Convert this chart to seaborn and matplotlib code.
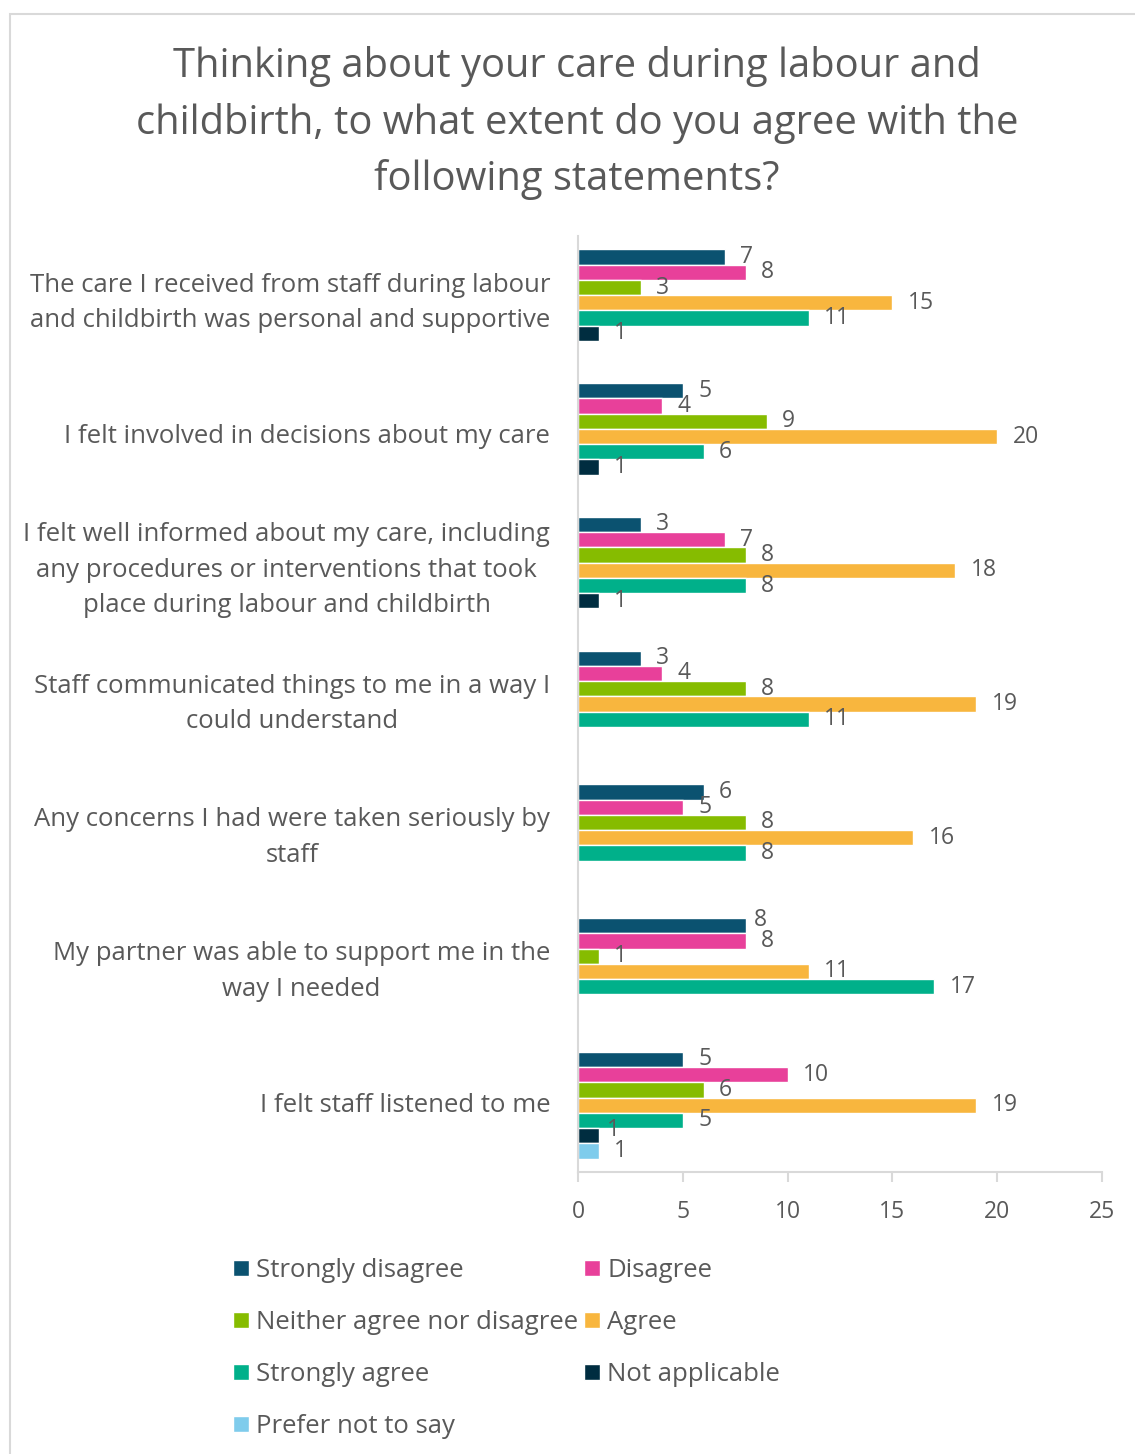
import matplotlib
matplotlib.use("Agg")
import matplotlib.pyplot as plt
import matplotlib.patches as mpatches
import seaborn as sns
import pandas as pd

# Survey statements (y categories)
statements = [
    "The care I received from staff during labour\nand childbirth was personal and supportive",
    "I felt involved in decisions about my care",
    "I felt well informed about my care, including\nany procedures or interventions that took\nplace during labour and childbirth",
    "Staff communicated things to me in a way I\ncould understand",
    "Any concerns I had were taken seriously by\nstaff",
    "My partner was able to support me in the\nway I needed",
    "I felt staff listened to me",
]

responses = [
    "Strongly disagree",
    "Disagree",
    "Neither agree nor disagree",
    "Agree",
    "Strongly agree",
    "Not applicable",
    "Prefer not to say",
]

# Counts per response, one value per statement
strongly_disagree = [7, 5, 3, 3, 6, 8, 5]
disagree = [8, 4, 7, 4, 5, 8, 10]
neither = [3, 9, 8, 8, 8, 1, 6]
agree = [15, 20, 18, 19, 16, 11, 19]
strongly_agree = [11, 6, 8, 11, 8, 17, 5]
not_applicable = [1, 1, 1, 0, 0, 0, 1]
prefer_not_to_say = [0, 0, 0, 0, 0, 0, 1]

series = [strongly_disagree, disagree, neither, agree,
          strongly_agree, not_applicable, prefer_not_to_say]

colors = ["#0B5270", "#E8409A", "#86BC00", "#F8B63E",
          "#00B08A", "#002D40", "#7FCCEC"]

rows = []
for resp, vals in zip(responses, series):
    for st, v in zip(statements, vals):
        rows.append({"Statement": st, "Response": resp, "Count": v})
df = pd.DataFrame(rows)

sns.set_theme(style="white")
plt.rcParams["font.family"] = ["Open Sans", "DejaVu Sans"]

TEXT = "#595959"
GRID = "#D9D9D9"

fig = plt.figure(figsize=(11.35, 14.54), dpi=100)
ax = fig.add_axes([578 / 1135, 1 - 1172 / 1454,
                   (1102 - 578) / 1135, (1172 - 236) / 1454])

sns.barplot(data=df, x="Count", y="Statement", hue="Response",
            order=statements, hue_order=responses, palette=colors,
            orient="h", width=0.8, saturation=1, ax=ax, legend=True)

label_sets = []
for container, vals in zip(ax.containers, series):
    texts = ax.bar_label(container,
                         labels=[str(v) if v > 0 else "" for v in vals],
                         padding=11, fontsize=16.5, color=TEXT)
    label_sets.append(texts)

# Lift a label when the bar just below carries the same value
for s in range(len(series) - 1):
    for c in range(len(statements)):
        v = series[s][c]
        if v > 0 and v == series[s + 1][c]:
            label_sets[s][c].xyann = (6, 4)

ax.set_xlim(0, 25)
ax.set_xticks(range(0, 26, 5))
ax.set_xlabel("")
ax.set_ylabel("")

for side in ["top", "right"]:
    ax.spines[side].set_visible(False)
for side in ["left", "bottom"]:
    ax.spines[side].set_color(GRID)
    ax.spines[side].set_linewidth(1.5)

ax.tick_params(axis="x", colors=GRID, length=7, width=1.5, pad=13,
               labelsize=16.5, labelcolor=TEXT, bottom=True)
ax.tick_params(axis="y", length=0, pad=20, labelsize=18.5, labelcolor=TEXT)
for t in ax.get_yticklabels():
    t.set_multialignment("center")
    t.set_linespacing(1.55)
    t.set_verticalalignment("center")

# Legend laid out row by row in two columns
handles, labels = ax.get_legend_handles_labels()
ax.get_legend().remove()
order = [0, 2, 4, 6, 1, 3, 5]
fig.legend([handles[i] for i in order], [labels[i] for i in order],
           loc="upper left", bbox_to_anchor=(223 / 1135, 1 - 1248 / 1454),
           ncol=2, frameon=False, fontsize=18.5, labelcolor=TEXT,
           handlelength=0.6, handleheight=0.6, handletextpad=0.3,
           columnspacing=0.22, labelspacing=1.05, borderaxespad=0)

fig.text(577 / 1135, 1 - 123 / 1454,
         "Thinking about your care during labour and\n"
         "childbirth, to what extent do you agree with the\n"
         "following statements?",
         ha="center", va="center", fontsize=28.7, color=TEXT,
         linespacing=1.5, multialignment="center")

# Chart frame
fig.add_artist(mpatches.Rectangle((9.5 / 1135, -0.05), 2, 1.05 - 14 / 1454,
                                  transform=fig.transFigure, fill=False,
                                  edgecolor=GRID, linewidth=1.5))

fig.savefig("out.png", dpi=100, facecolor="white")
